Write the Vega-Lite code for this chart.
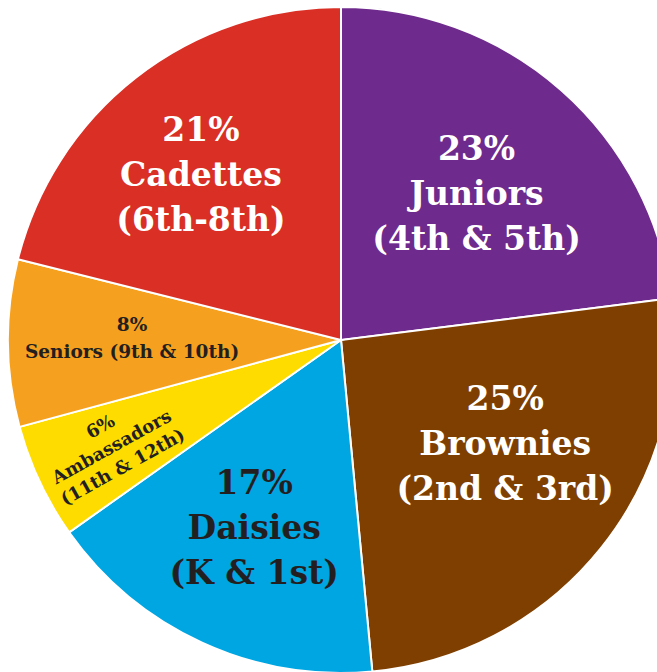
{
  "$schema": "https://vega.github.io/schema/vega-lite/v6.json",
  "width": 682,
  "height": 680,
  "autosize": "none",
  "padding": 0,
  "background": "white",
  "data": {
    "values": [
      {"rank": 1, "slice": "Juniors", "pct": 23.0, "label": "23%\nJuniors\n(4th & 5th)"},
      {"rank": 2, "slice": "Brownies", "pct": 25.5, "label": "25%\nBrownies\n(2nd & 3rd)"},
      {"rank": 3, "slice": "Daisies", "pct": 16.7, "label": "17%\nDaisies\n(K & 1st)"},
      {"rank": 4, "slice": "Ambassadors", "pct": 5.6, "label": "6%\nAmbassadors\n(11th & 12th)"},
      {"rank": 5, "slice": "Seniors", "pct": 8.1, "label": "8%\nSeniors (9th & 10th)"},
      {"rank": 6, "slice": "Cadettes", "pct": 21.1, "label": "21%\nCadettes\n(6th-8th)"}
    ]
  },
  "encoding": {
    "theta": {"field": "pct", "type": "quantitative", "stack": true},
    "order": {"field": "rank", "type": "quantitative"}
  },
  "layer": [
    {
      "mark": {"type": "arc", "outerRadius": 333, "stroke": "white", "strokeWidth": 2},
      "encoding": {
        "color": {
          "field": "slice",
          "type": "nominal",
          "legend": null,
          "scale": {
            "domain": ["Juniors", "Brownies", "Daisies", "Ambassadors", "Seniors", "Cadettes"],
            "range": ["#6E2A8C", "#7E3F00", "#00A6E2", "#FEDC00", "#F6A01F", "#D92F24"]
          }
        }
      }
    },
    {
      "mark": {"type": "text", "radius": 208, "dx": -2, "dy": -34, "font": "DejaVu Serif", "fontWeight": "bold", "fontSize": 33, "lineHeight": 45, "lineBreak": "\n", "align": "center", "baseline": "middle", "color": "white"},
      "encoding": {
        "text": {"condition": {"test": "datum.slice == 'Juniors'", "field": "label"}, "value": ""}
      }
    },
    {
      "mark": {"type": "text", "radius": 195, "dx": 12, "dy": -62, "font": "DejaVu Serif", "fontWeight": "bold", "fontSize": 33, "lineHeight": 45, "lineBreak": "\n", "align": "center", "baseline": "middle", "color": "white"},
      "encoding": {
        "text": {"condition": {"test": "datum.slice == 'Brownies'", "field": "label"}, "value": ""}
      }
    },
    {
      "mark": {"type": "text", "radius": 208, "dx": -12, "dy": -45, "font": "DejaVu Serif", "fontWeight": "bold", "fontSize": 33, "lineHeight": 45, "lineBreak": "\n", "align": "center", "baseline": "middle", "color": "white"},
      "encoding": {
        "text": {"condition": {"test": "datum.slice == 'Cadettes'", "field": "label"}, "value": ""}
      }
    },
    {
      "mark": {"type": "text", "radius": 208, "dy": -45, "font": "DejaVu Serif", "fontWeight": "bold", "fontSize": 33, "lineHeight": 45, "lineBreak": "\n", "align": "center", "baseline": "middle", "color": "#231F20"},
      "encoding": {
        "text": {"condition": {"test": "datum.slice == 'Daisies'", "field": "label"}, "value": ""}
      }
    },
    {
      "mark": {"type": "text", "radius": 209, "dy": -17, "font": "DejaVu Serif", "fontWeight": "bold", "fontSize": 18.5, "lineHeight": 27, "lineBreak": "\n", "align": "center", "baseline": "middle", "color": "#231F20"},
      "encoding": {
        "text": {"condition": {"test": "datum.slice == 'Seniors'", "field": "label"}, "value": ""}
      }
    },
    {
      "mark": {"type": "text", "radius": 253, "dy": -23, "angle": 331, "font": "DejaVu Serif", "fontWeight": "bold", "fontSize": 18, "lineHeight": 23, "lineBreak": "\n", "align": "center", "baseline": "middle", "color": "#231F20"},
      "encoding": {
        "text": {"condition": {"test": "datum.slice == 'Ambassadors'", "field": "label"}, "value": ""}
      }
    }
  ]
}
